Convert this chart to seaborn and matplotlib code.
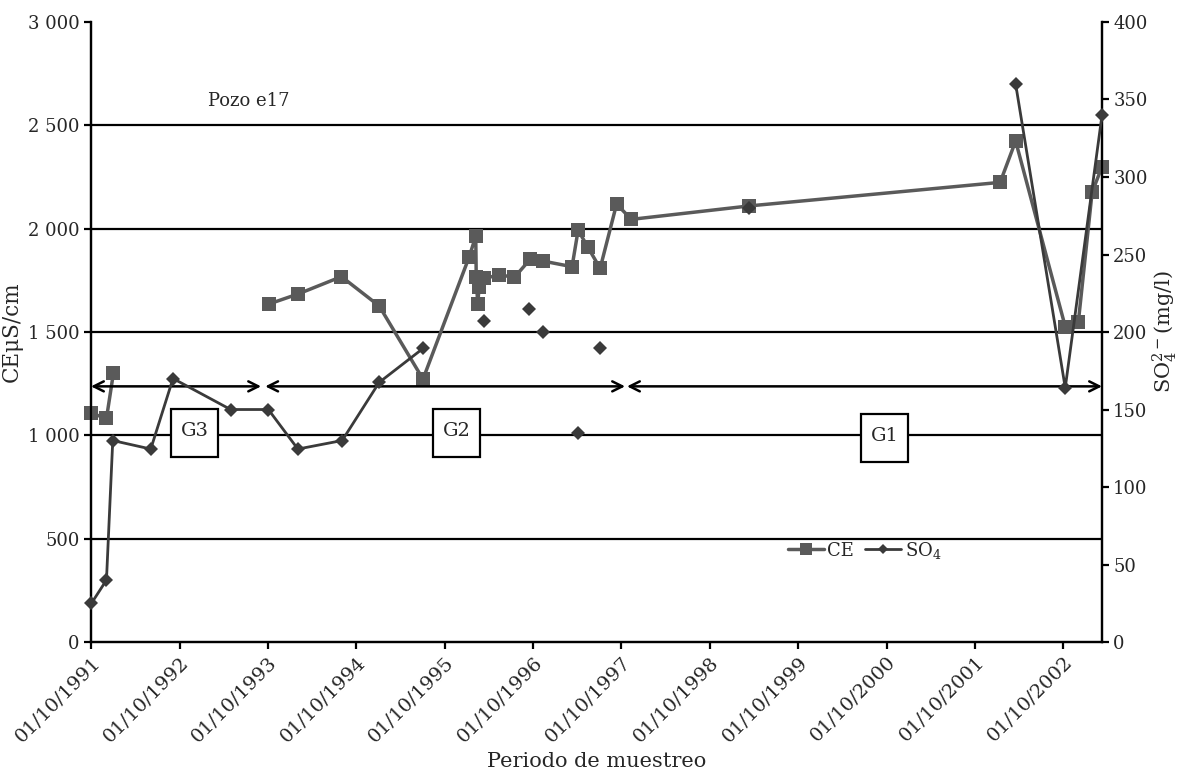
import pandas as pd
import matplotlib
matplotlib.use('Agg')
import matplotlib.pyplot as plt
import matplotlib.ticker as mticker
import matplotlib.dates as mdates
from matplotlib.lines import Line2D
from matplotlib.patches import Rectangle
import seaborn as sns

# Conductividad eléctrica (CE, µS/cm) - pozo e17
fechas_ce = ['1991-10-03', '1991-12-04', '1992-01-02',
             '1993-10-04', '1994-02-03', '1994-08-01', '1995-01-04', '1995-07-04',
             '1996-01-11', '1996-02-07', '1996-02-09', '1996-02-15', '1996-02-21',
             '1996-03-14', '1996-05-15', '1996-07-16', '1996-09-19', '1996-11-12',
             '1997-03-11', '1997-04-05', '1997-05-14', '1997-07-05', '1997-09-11',
             '1997-11-11', '1999-03-13', '2002-01-13', '2002-03-18', '2002-10-09',
             '2002-12-02', '2003-01-28', '2003-03-10']
ce = [1107, 1082, 1303,
      1635, 1684, 1768, 1626, 1272,
      1864, 1964, 1768, 1635, 1719,
      1760, 1776, 1765, 1852, 1843,
      1816, 1993, 1913, 1808, 2119,
      2045, 2110, 2224, 2424, 1526,
      1547, 2176, 2300]
tramo_ce = [0] * 3 + [1] * 28

# Sulfatos (SO4, mg/l)
fechas_so4 = ['1991-10-03', '1991-12-04', '1991-12-30', '1992-06-04', '1992-09-04',
              '1993-04-30', '1993-10-03', '1994-02-02', '1994-08-04', '1995-01-04',
              '1995-07-05',
              '1996-03-14', '1996-09-15', '1996-11-12', '1997-04-05', '1997-07-05',
              '1999-03-13',
              '2002-03-18', '2002-10-09', '2003-03-10']
so4 = [25, 40, 130, 124.5, 170,
       150, 150, 124.5, 130, 167.5,
       189.5,
       207, 215, 200, 135, 190,
       280,
       360, 164, 340]
tramo_so4 = [0] * 11 + [1, 2, 3, 4, 5, 6] + [7] * 3

# Periodos (grupos)
grupos = ['G3', 'G2', 'G1']
inicio_grupo = ['1991-10-01', '1993-09-20', '1997-10-24']
fin_grupo = ['1993-09-03', '1997-10-16', '2003-03-10']
centro_grupo = ['1992-12-03', '1995-11-20', '2000-09-22']
centro_caja_ce = [1011, 1011, 987]

df_ce = pd.DataFrame({'fecha': pd.to_datetime(fechas_ce), 'CE': ce, 'tramo': tramo_ce})
df_so4 = pd.DataFrame({'fecha': pd.to_datetime(fechas_so4), 'SO4': so4, 'tramo': tramo_so4})

sns.set_style('ticks')
plt.rcParams['font.family'] = ['DejaVu Serif']
plt.rcParams['mathtext.fontset'] = 'dejavuserif'

fig = plt.figure(figsize=(11.77, 7.74), dpi=100)
ax = fig.add_axes([0.0773, 0.1705, 0.859, 0.8011])
ax2 = ax.twinx()

col_ce = '#5a5a5a'
col_so4 = '#3a3a3a'

for y in [500, 1000, 1500, 2000, 2500]:
    ax.axhline(y, color='black', lw=1.6, zorder=1)

sns.lineplot(data=df_ce, x='fecha', y='CE', units='tramo', estimator=None,
             color=col_ce, marker='s', markersize=10, markeredgewidth=0,
             linewidth=2.5, ax=ax, legend=False, zorder=3, clip_on=False)
sns.lineplot(data=df_so4, x='fecha', y='SO4', units='tramo', estimator=None,
             color=col_so4, marker='D', markersize=7, markeredgewidth=0,
             linewidth=2.0, ax=ax2, legend=False, zorder=3, clip_on=False)

xmin = pd.Timestamp('1991-10-01')
xmax = pd.Timestamp('2003-03-10')
ax.set_xlim(xmin, xmax)
ax.set_ylim(0, 3000)
ax2.set_ylim(0, 400)

ax.set_yticks(range(0, 3001, 500))
ax.yaxis.set_major_formatter(mticker.FuncFormatter(lambda v, p: f'{int(v):,}'.replace(',', ' ')))
ax2.set_yticks(range(0, 401, 50))

ax.xaxis.set_major_locator(mdates.YearLocator(base=1, month=10, day=1))
ax.xaxis.set_major_formatter(mdates.DateFormatter('%d/%m/%Y'))

for a in (ax, ax2):
    a.spines['top'].set_visible(False)
    for s in ('left', 'right', 'bottom'):
        a.spines[s].set_linewidth(1.6)
        a.spines[s].set_color('black')
    a.tick_params(axis='both', width=1.6, length=5, labelsize=13, color='black', pad=3)
ax.tick_params(axis='x', labelsize=14)
for lab in ax.get_xticklabels():
    lab.set_rotation(45)
    lab.set_ha('right')
    lab.set_rotation_mode('anchor')

ax.set_xlabel('Periodo de muestreo', fontsize=15)
ax.xaxis.set_label_coords(0.5, -0.178)
ax.set_ylabel('CEμS/cm', fontsize=15.5, labelpad=4)
ax2.set_ylabel(r'SO$_4^{2-}$(mg/l)', fontsize=15, labelpad=2)

ax.text(pd.Timestamp('1993-07-15'), 2620, 'Pozo e17', fontsize=13, ha='center', va='center')

# flechas de los periodos y cajas de grupo
y_flecha = 1237
ancho_caja = pd.Timedelta(days=194)
alto_caja = 232
for g, i0, i1, c, yc in zip(grupos, inicio_grupo, fin_grupo, centro_grupo, centro_caja_ce):
    ax.annotate('', xy=(pd.Timestamp(i0), y_flecha), xytext=(pd.Timestamp(i1), y_flecha),
                arrowprops=dict(arrowstyle='<->', color='black', lw=1.8,
                                mutation_scale=18, shrinkA=0, shrinkB=0), zorder=4)
    x0 = mdates.date2num(pd.Timestamp(c) - ancho_caja / 2)
    ax.add_patch(Rectangle((x0, yc - alto_caja / 2), ancho_caja.days, alto_caja,
                           fc='white', ec='black', lw=1.6, zorder=5))
    ax.text(pd.Timestamp(c), yc + 8, g, fontsize=14, ha='center', va='center', zorder=6)

handles = [Line2D([], [], color=col_ce, marker='s', markersize=8, lw=2.5, markeredgewidth=0),
           Line2D([], [], color=col_so4, marker='D', markersize=5.5, lw=2.0, markeredgewidth=0)]
ax.legend(handles, ['CE', r'SO$_4$'], loc='center', bbox_to_anchor=(0.765, 0.148), ncol=2,
          frameon=False, fontsize=13, handlelength=2.0, handletextpad=0.2, columnspacing=0.6)

fig.savefig('out.png', dpi=100)
